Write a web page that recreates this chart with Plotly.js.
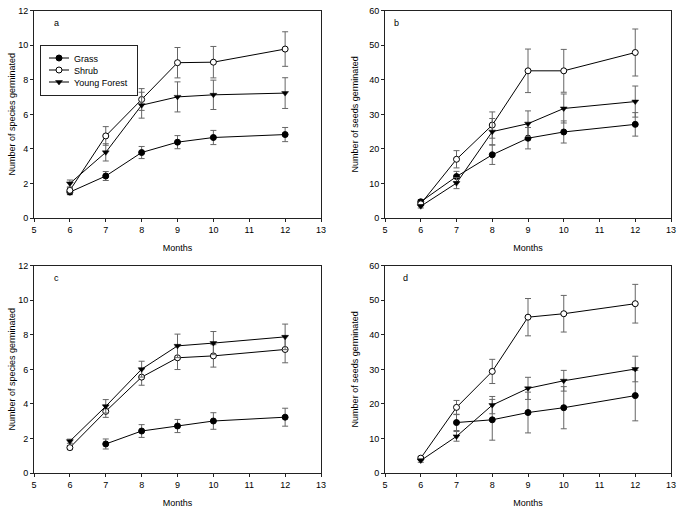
<!DOCTYPE html>
<html>
<head>
<meta charset="utf-8">
<script src="https://cdn.plot.ly/plotly-3.0.1.min.js"></script>
<style>html,body{margin:0;padding:0;background:#fff;}#chart{width:683px;height:515px;}</style>
</head>
<body>
<div id="chart"></div>
<script>
// ---- data ----
const months = [6, 7, 8, 9, 10, 12];
const seriesNames = ["Grass", "Shrub", "Young Forest"];
const panelLetters = ["a", "b", "c", "d"];

// panel a: species germinated
const grassA = [1.5, 2.43, 3.79, 4.39, 4.66, 4.83];
const grassAErr = [0.15, 0.26, 0.35, 0.38, 0.41, 0.41];
const shrubA = [1.6, 4.75, 6.86, 8.99, 9.02, 9.78];
const shrubAErr = [0.15, 0.54, 0.63, 0.88, 0.91, 1.0];
const forestA = [2.0, 3.8, 6.53, 7.01, 7.13, 7.23];
const forestAErr = [0.2, 0.5, 0.75, 0.87, 0.85, 0.89];

// panel b: seeds germinated
const grassB = [4.7, 12.0, 18.3, 23.1, 24.9, 27.1];
const grassBErr = [0.6, 1.5, 2.8, 3.1, 3.2, 3.4];
const shrubB = [4.1, 17.0, 26.9, 42.6, 42.6, 47.9];
const shrubBErr = [0.5, 2.5, 3.8, 6.3, 6.2, 6.8];
const forestB = [3.4, 10.1, 25.0, 27.3, 31.7, 33.7];
const forestBErr = [0.5, 1.6, 3.8, 3.7, 4.2, 4.5];

// panel c: species germinated
const grassC = [null, 1.68, 2.43, 2.72, 3.01, 3.23];
const grassCErr = [null, 0.29, 0.37, 0.38, 0.48, 0.52];
const shrubC = [1.47, 3.57, 5.55, 6.67, 6.78, 7.15];
const shrubCErr = [0.12, 0.35, 0.47, 0.68, 0.65, 0.77];
const forestC = [1.84, 3.86, 6.01, 7.36, 7.52, 7.88];
const forestCErr = [0.12, 0.39, 0.46, 0.68, 0.67, 0.74];

// panel d: seeds germinated
const grassD = [null, 14.6, 15.4, 17.5, 18.9, 22.4];
const grassDErr = [null, 2.3, 5.9, 5.9, 6.1, 7.3];
const shrubD = [4.3, 19.0, 29.4, 45.1, 46.1, 49.0];
const shrubDErr = [0.5, 2.0, 3.5, 5.4, 5.3, 5.6];
const forestD = [3.6, 10.6, 19.65, 24.5, 26.7, 30.1];
const forestDErr = [0.5, 1.4, 2.5, 3.2, 3.0, 3.7];

const xTitle = "Months";
const yTitleSpecies = "Number of species germinated";
const yTitleSeeds = "Number of seeds germinated";

// ---- build ----
const FONT = "Liberation Sans, Arial, sans-serif";
const markerStyles = [
  {symbol: "circle", size: 6, color: "#000", line: {color: "#000", width: 1}},
  {symbol: "circle", size: 6, color: "#fff", line: {color: "#000", width: 1}},
  {symbol: "triangle-down", size: 6, color: "#000", line: {color: "#000", width: 0.5}}
];
const panels = [
  {vals: [grassA, shrubA, forestA], errs: [grassAErr, shrubAErr, forestAErr], ax: ""},
  {vals: [grassB, shrubB, forestB], errs: [grassBErr, shrubBErr, forestBErr], ax: "2"},
  {vals: [grassC, shrubC, forestC], errs: [grassCErr, shrubCErr, forestCErr], ax: "3"},
  {vals: [grassD, shrubD, forestD], errs: [grassDErr, shrubDErr, forestDErr], ax: "4"}
];
const traces = [];
panels.forEach((p, pi) => {
  for (let s = 0; s < 3; s++) {
    traces.push({
      type: "scatter", mode: "lines+markers",
      x: months, y: p.vals[s],
      name: seriesNames[s],
      showlegend: pi === 0,
      xaxis: "x" + p.ax, yaxis: "y" + p.ax,
      connectgaps: false,
      line: {color: "#000", width: 1},
      marker: markerStyles[s],
      error_y: {type: "data", array: p.errs[s], visible: true, color: "#666", thickness: 1, width: 3}
    });
  }
});

const xDomL = [34/683, 321/683], xDomR = [385/683, 671/683];
const yDomT = [1 - 218/515, 1 - 10.7/515], yDomB = [1 - 473/515, 1 - 265.7/515];

function xAx(dom, anchor) {
  return {
    domain: dom, anchor: anchor, range: [5, 13], dtick: 1, tick0: 5,
    showline: true, mirror: true, linecolor: "#222", linewidth: 1,
    ticks: "outside", ticklen: 3, tickcolor: "#222",
    showgrid: false, zeroline: false, automargin: false,
    tickfont: {family: FONT, size: 9, color: "#000"},
    title: {text: xTitle, font: {family: FONT, size: 9, color: "#000"}, standoff: 10}
  };
}
function yAx(dom, anchor, max, dt, title, standoff) {
  return {
    domain: dom, anchor: anchor, range: [0, max], dtick: dt,
    showline: true, mirror: true, linecolor: "#222", linewidth: 1,
    ticks: "outside", ticklen: 3, tickcolor: "#222",
    showgrid: false, zeroline: false, automargin: false,
    tickfont: {family: FONT, size: 9, color: "#000"},
    title: {text: title, font: {family: FONT, size: 9, color: "#000"}, standoff: standoff}
  };
}

const letterPos = [[0.063, 0.942], [0.023, 0.942], [0.062, 0.942], [0.056, 0.942]];
const annotations = panelLetters.map((l, i) => ({
  text: l, showarrow: false,
  xref: "x" + (i === 0 ? "" : i + 1) + " domain", yref: "y" + (i === 0 ? "" : i + 1) + " domain",
  x: letterPos[i][0], y: letterPos[i][1], xanchor: "left", yanchor: "middle",
  font: {family: FONT, size: 9, color: "#000"}
}));

const layout = {
  width: 683, height: 515,
  margin: {l: 0, r: 0, t: 0, b: 0},
  paper_bgcolor: "#fff", plot_bgcolor: "#fff",
  showlegend: true,
  legend: {
    x: 40/683, y: 1 - 45/515, xanchor: "left", yanchor: "top",
    bordercolor: "#222", borderwidth: 1, bgcolor: "#fff",
    font: {family: FONT, size: 9, color: "#000"},
    tracegroupgap: 0, itemwidth: 30
  },
  xaxis: xAx(xDomL, "y"), yaxis: yAx(yDomT, "x", 12, 2, yTitleSpecies, 1),
  xaxis2: xAx(xDomR, "y2"), yaxis2: yAx(yDomT, "x2", 60, 10, yTitleSeeds, 9),
  xaxis3: xAx(xDomL, "y3"), yaxis3: yAx(yDomB, "x3", 12, 2, yTitleSpecies, 1),
  xaxis4: xAx(xDomR, "y4"), yaxis4: yAx(yDomB, "x4", 60, 10, yTitleSeeds, 9),
  annotations: annotations
};

Plotly.newPlot("chart", traces, layout, {staticPlot: true, displayModeBar: false}).then(gd => {
  // tighten legend layout to match the reference (12px rows, short sample lines, 97x50 box)
  const leg = gd.querySelector("g.legend");
  if (!leg) return;
  const items = leg.querySelectorAll("g.traces");
  const rowGap = 12, firstRow = 13;
  items.forEach((it, i) => {
    const m = /translate\(\s*([-\d.]+)[ ,]+([-\d.]+)\s*\)/.exec(it.getAttribute("transform") || "");
    const tx = m ? parseFloat(m[1]) : 1;
    it.setAttribute("transform", "translate(" + tx + "," + (firstRow + rowGap * i) + ")");
    it.querySelectorAll("g.legendlines path").forEach(p => p.setAttribute("d", "M8,0h20"));
    it.querySelectorAll("g.legendpoints path").forEach(p => p.setAttribute("transform", "translate(18,0)"));
    const t = it.querySelector("text.legendtext");
    if (t) {
      t.setAttribute("x", 33);
      t.querySelectorAll("tspan").forEach(ts => { if (ts.hasAttribute("x")) ts.setAttribute("x", 33); });
    }
  });
  const bg = leg.querySelector("rect.bg");
  if (bg) { bg.setAttribute("height", 50); bg.setAttribute("width", 97); }
});
</script>
</body>
</html>
